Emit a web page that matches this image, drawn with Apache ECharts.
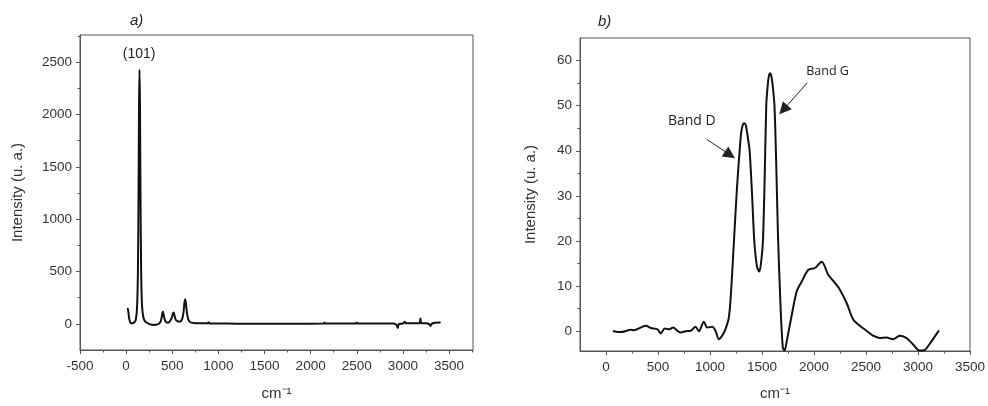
<!DOCTYPE html>
<html><head><meta charset="utf-8">
<script src="https://cdn.jsdelivr.net/npm/echarts@6/dist/echarts.min.js"></script>
<style>html,body{margin:0;padding:0;background:#fff}#c{width:988px;height:406px}</style>
</head><body><div id="c"></div><script>
// Panel a) Raman shift (cm-1) and intensity
const shiftA = [18,25,35,50,70,90,105,118,128,135,140,145,150,156,163,172,185,200,225,260,300,340,365,380,392,398,405,418,435,455,475,495,508,514,522,535,555,580,605,622,632,640,648,660,675,695,730,800,880,895,905,1000,1200,1400,1600,1800,2000,2140,2150,2160,2300,2490,2500,2510,2700,2900,2930,2945,2955,3000,3020,3030,3100,3180,3190,3200,3250,3280,3300,3310,3350,3400];
const intensityA = [145,110,40,8,5,15,40,150,500,1300,2100,2430,2100,1200,500,180,70,30,10,-5,-10,-5,10,40,100,118,95,40,15,10,25,60,100,108,90,45,25,20,40,110,200,235,200,100,40,15,8,5,5,15,3,3,2,2,2,2,2,3,12,3,3,3,12,3,3,3,-10,-40,-5,3,20,5,5,5,50,5,5,0,-20,0,10,12];
// Panel b)
const shiftB = [73,143,239,271,383,430,495,526,565,606,645,686,718,766,814,861,893,941,973,1021,1053,1085,1117,1148,1181,1203,1228,1260,1285,1300,1315,1330,1345,1360,1381,1405,1426,1452,1474,1495,1509,1525,1541,1555,1567,1579,1591,1605,1620,1637,1653,1675,1700,1717,1739,1787,1835,1882,1946,2010,2074,2137,2201,2249,2313,2377,2441,2504,2568,2632,2696,2759,2824,2887,2951,3015,3063,3110,3197];
const intensityB = [0,-0.2,0.3,0.2,1.2,0.7,0.4,-0.5,0.6,0.4,0.8,0.1,-0.3,0,0.1,1.0,0,2.1,0.8,1.0,0.1,-1.8,-1.0,0.4,3.0,8.9,19,32,40,44,45.7,46.1,45.6,43.5,40,30,20,14.3,13.2,16,20,33,50,54.5,56.7,57.2,56.5,54,50,37,22,7.4,-3.6,-4.3,-2.1,3.7,8.9,11,13.6,14,15.4,12.5,10.7,9.2,6.3,2.6,1.2,0.1,-1,-1.5,-1.4,-1.8,-1.0,-1.5,-2.9,-4.3,-4.2,-2.9,0];
// tick labels
const ticksAx = [-500,0,500,1000,1500,2000,2500,3000,3500];
const minorAx = [-250,250,750,1250,1750,2250,2750,3250,3750];
const ticksAy = [0,500,1000,1500,2000,2500];
const minorAy = [250,750,1250,1750,2250,2750];
const ticksBx = [0,500,1000,1500,2000,2500,3000,3500];
const minorBx = [250,750,1250,1750,2250,2750,3250];
const ticksBy = [0,10,20,30,40,50,60];
const minorBy = [5,15,25,35,45,55];

const zip = (a,b) => a.map((v,i)=>[v,b[i]]);
const axisCol = '#555';
const lblStyle = {color:'#333', fontSize:13.5, fontFamily:'Liberation Sans, Arial, sans-serif'};

function axisPair(type, grid, min, max, major, minor, name, nameGap) {
  const pos = type==='x' ? 'bottom' : 'left';
  const main = {
    type:'value', gridIndex:grid, min:min, max:max, position:pos, offset:0,
    axisLine:{show:true, onZero:false, lineStyle:{color:axisCol, width:1}},
    axisTick:{show:true, inside:false, length:4, customValues:major, lineStyle:{color:axisCol}},
    axisLabel:Object.assign({customValues:major, margin:type==='x'?9:8, formatter:(v)=>String(v)}, lblStyle),
    splitLine:{show:false},
    name:name, nameLocation:'middle', nameGap:nameGap,
    nameTextStyle:{color:'#333', fontSize:15, fontFamily:'Liberation Sans, Arial, sans-serif'}
  };
  const sub = {
    type:'value', gridIndex:grid, min:min, max:max, position:pos, offset:0,
    axisLine:{show:false, onZero:false},
    axisTick:{show:true, inside:false, length:2.5, customValues:minor, lineStyle:{color:axisCol}},
    axisLabel:{show:false}, splitLine:{show:false}
  };
  return [main, sub];
}

const xa = axisPair('x',0,-500,3760,ticksAx,minorAx,'cm⁻¹',36);
const ya = axisPair('y',0,-250,2760,ticksAy,minorAy,'Intensity (u. a.)',55);
const xb = axisPair('x',1,-250,3500,ticksBx,minorBx,'cm⁻¹',35);
const yb = axisPair('y',1,-4.4,65,ticksBy,minorBy,'Intensity (u. a.)',42);

const chart = echarts.init(document.getElementById('c'), null, {renderer:'canvas'});
chart.setOption({
  animation:false,
  backgroundColor:'#fff',
  title:[
    {text:'a)', left:125, top:8, textStyle:{fontStyle:'italic', fontWeight:'normal', fontSize:15, color:'#222', fontFamily:'Liberation Sans, Arial, sans-serif'}},
    {text:'b)', left:593, top:9, textStyle:{fontStyle:'italic', fontWeight:'normal', fontSize:15, color:'#222', fontFamily:'Liberation Sans, Arial, sans-serif'}}
  ],
  grid:[
    {left:80, top:35, width:393, height:317, show:true, borderColor:axisCol, borderWidth:1, backgroundColor:'transparent'},
    {left:580, top:38, width:391, height:315, show:true, borderColor:axisCol, borderWidth:1, backgroundColor:'transparent'}
  ],
  xAxis:[xa[0], xa[1], xb[0], xb[1]],
  yAxis:[ya[0], ya[1], yb[0], yb[1]],
  series:[
    {
      type:'line', xAxisIndex:0, yAxisIndex:0, data:zip(shiftA,intensityA),
      symbol:'none', showSymbol:false, smooth:0.25,
      lineStyle:{color:'#111', width:2, join:'round', cap:'round'}, itemStyle:{color:'#111'},
      markPoint:{
        symbol:'circle', symbolSize:0, silent:true,
        label:{show:true, formatter:'{b}', color:'#222', fontSize:14, fontFamily:'Liberation Sans, Arial, sans-serif'},
        data:[{name:'(101)', coord:[141,2577]}]
      }
    },
    {
      type:'line', xAxisIndex:2, yAxisIndex:2, data:zip(shiftB,intensityB),
      symbol:'none', showSymbol:false, smooth:0.3,
      lineStyle:{color:'#111', width:2, join:'round', cap:'round'}, itemStyle:{color:'#111'},
      markPoint:{
        symbol:'circle', symbolSize:0, silent:true,
        label:{show:true, formatter:'{b}', color:'#222', fontFamily:'Open Sans, sans-serif'},
        data:[
          {name:'Band D', coord:[825,46.5], label:{fontSize:14}},
          {name:'Band G', coord:[2131,57.5], label:{fontSize:12.5}}
        ]
      },
      markLine:{
        silent:true, symbolSize:12, label:{show:false},
        lineStyle:{color:'#222', width:1, type:'solid'},
        data:[
          [{coord:[970,42.5], symbol:'none'},{coord:[1192,39.1], symbol:'triangle'}],
          [{coord:[1937,55.1], symbol:'none'},{coord:[1705,49.1], symbol:'triangle'}]
        ]
      }
    }
  ]
});
</script></body></html>
